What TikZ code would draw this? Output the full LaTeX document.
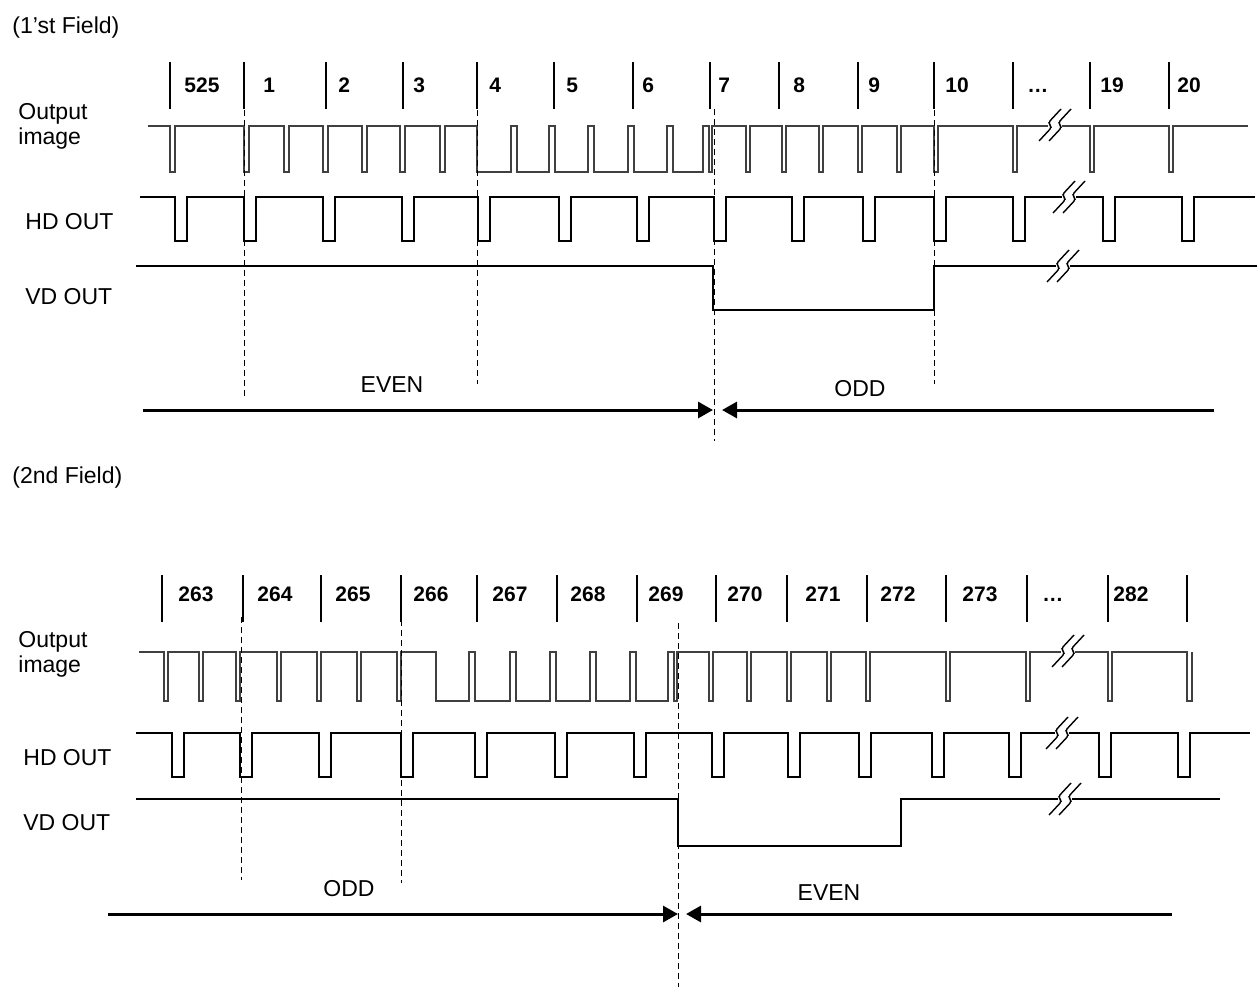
\documentclass[tikz,border=0pt]{standalone}
\usepackage{fontspec}
\setmainfont{Liberation Sans}
\usetikzlibrary{arrows.meta}

\tikzset{
  tick/.style={line width=1pt},
  imgsig/.style={line width=0.6pt, black!75},
  sig/.style={line width=1pt},
  guide/.style={line width=0.5pt, dash pattern=on 3pt off 2pt},
  span/.style={line width=1.5pt, -{Triangle[length=7.5pt,width=8pt]}},
  lbl/.style={inner sep=0pt, font=\fontsize{11.5}{12.5}\selectfont},
  num/.style={inner sep=0pt, anchor=base west, font=\fontsize{10.5}{12}\selectfont\bfseries},
  brk/.pic={
    \fill[white] (-7,-3) rectangle (7,3);
    \foreach \d in {-5,5}
      \draw[line width=0.7pt, rounded corners=1.5pt] (\d-11,16) -- (\d+2,2) -- (\d-2,-2) -- (\d+11,-16);
  }
}

\begin{document}
\begin{tikzpicture}[x=0.5pt, y=-0.5pt]
  \useasboundingbox (0,0) rectangle (1257,987);

  % 1'st field
  \node[lbl, anchor=base west] (fld1) at (12,33) {(1’st Field)};
  \node[lbl, anchor=north west, align=left] (out1) at (18,103) {Output\\image};
  \node[lbl, anchor=base west] (hd1) at (25,229) {HD OUT};
  \node[lbl, anchor=base west] (vd1) at (25,304) {VD OUT};

  \foreach \x in {170,244,326,403,477,554,633,710,779,858,934,1013,1090,1169}
    \draw[tick] (\x,62) -- (\x,109);
  \foreach \lx/\t [count=\i] in {184/525,263/1,338/2,413/3,489/4,566/5,642/6,718/7,793/8,868/9,945/10,1027/…,1100/19,1177/20}
    \node[num] (ln\i) at (\lx,92) {\t};

  \draw[imgsig] (148,126)
    foreach \x in {170,244,284,323,362,400,440} { -- (\x,126) -- (\x,172) -- (\x+5,172) -- (\x+5,126) }
    -- (477,126) -- (477,172)
    foreach \x in {511,549,588,628,667,703} { -- (\x,172) -- (\x,126) -- (\x+6,126) -- (\x+6,172) }
    -- (712,172) -- (712,126)
    foreach \x in {746,782,819,858,897,934,1013,1090,1169} { -- (\x,126) -- (\x,172) -- (\x+4,172) -- (\x+4,126) }
    -- (1248,126);
  \draw[sig] (140,197)
    foreach \x in {175,244,323,402,478,559,637,714,792,863,934,1013,1103,1182} { -- (\x,197) -- (\x,241) -- (\x+12,241) -- (\x+12,197) }
    -- (1255,197);
  \draw[sig] (136,266) -- (713,266) -- (713,310) -- (934,310) -- (934,266) -- (1257,266);
  \pic at (1055,125) {brk};
  \pic at (1069,197) {brk};
  \pic at (1063,266) {brk};

  \draw[guide] (244,110) -- (244,397);
  \draw[guide] (477,110) -- (477,384);
  \draw[guide] (714,109) -- (714,441);
  \draw[guide] (934,110) -- (934,384);

  \coordinate (e1a) at (143,410);
  \coordinate (e1b) at (713,410);
  \coordinate (o1a) at (1214,410);
  \coordinate (o1b) at (722,410);
  \draw[span] (e1a) -- (e1b);
  \draw[span] (o1a) -- (o1b);
  \node[lbl] (even1) at (392,385) {EVEN};
  \node[lbl] (odd1) at (860,389) {ODD};

  % 2nd field
  \node[lbl, anchor=base west] (fld2) at (12,483) {(2nd Field)};
  \node[lbl, anchor=north west, align=left] (out2) at (18,631) {Output\\image};
  \node[lbl, anchor=base west] (hd2) at (23,765) {HD OUT};
  \node[lbl, anchor=base west] (vd2) at (23,830) {VD OUT};

  \foreach \x in {162,243,321,401,477,557,637,716,787,867,946,1027,1108,1187}
    \draw[tick] (\x,575) -- (\x,622);
  \foreach \lx/\t [count=\i] in {178/263,257/264,335/265,413/266,492/267,570/268,648/269,727/270,805/271,880/272,962/273,1042/…,1113/282}
    \node[num] (lm\i) at (\lx,601) {\t};

  \draw[imgsig] (139,652)
    foreach \x in {164,199,236,277,317,357,397} { -- (\x,652) -- (\x,701) -- (\x+4,701) -- (\x+4,652) }
    -- (436,652) -- (436,701)
    foreach \x in {469,510,550,590,630,668} { -- (\x,701) -- (\x,652) -- (\x+6,652) -- (\x+6,701) }
    -- (677,701) -- (677,652)
    foreach \x in {709,747,787,827,866,946,1026,1108} { -- (\x,652) -- (\x,701) -- (\x+4,701) -- (\x+4,652) }
    -- (1187,652) -- (1187,701) -- (1192,701) -- (1192,652);
  \draw[sig] (136,733)
    foreach \x in {172,240,319,401,475,555,634,712,788,859,932,1009,1099,1178} { -- (\x,733) -- (\x,777) -- (\x+12,777) -- (\x+12,733) }
    -- (1250,733);
  \draw[sig] (136,799) -- (678,799) -- (678,846) -- (901,846) -- (901,799) -- (1220,799);
  \pic at (1068,651) {brk};
  \pic at (1062,733) {brk};
  \pic at (1065,799) {brk};

  \draw[guide] (241,617) -- (241,880);
  \draw[guide] (401,620) -- (401,883);
  \draw[guide] (678,623) -- (678,987);

  \coordinate (o2a) at (108,914);
  \coordinate (o2b) at (678,914);
  \coordinate (e2a) at (1172,914);
  \coordinate (e2b) at (686,914);
  \draw[span] (o2a) -- (o2b);
  \draw[span] (e2a) -- (e2b);
  \node[lbl] (odd2) at (349,889) {ODD};
  \node[lbl] (even2) at (829,893) {EVEN};
\end{tikzpicture}
\end{document}
